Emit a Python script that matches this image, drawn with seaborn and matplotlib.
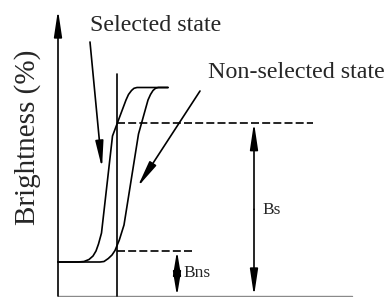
import matplotlib
matplotlib.use("Agg")
import matplotlib.pyplot as plt
import seaborn as sns
import pandas as pd

# ---- data (voltage offset, brightness; arbitrary schematic units) ----
sel_v = [0, 20, 26, 31, 35, 38, 40.5, 43.5, 54.5, 68, 70.5, 73.5, 76, 79, 110]
sel_b = [34, 34, 34.5, 36.5, 40, 45, 52, 63, 160, 196, 201.5, 205.5, 207.7, 208.5, 208.5]
non_v = [0, 42, 46, 50.3, 54, 57, 61.3, 66, 80.5, 90, 92.5, 95, 97.5, 100.3, 110]
non_b = [34, 34, 34.5, 37.5, 41, 45.5, 56, 71, 162, 196, 201.5, 205.5, 207.7, 208.5, 208.5]

v_select = 58.5      # selected voltage marker
b_s = 173.3          # brightness level Bs
b_ns = 45            # brightness level Bns
axis_top = 286
vline_top = 222
x_end = 294

label_y = "Brightness (%)"
label_sel = "Selected state"
label_non = "Non-selected state"
label_bs = "Bs"
label_bns = "Bns"

df = pd.concat([
    pd.DataFrame({"V": sel_v, "B": sel_b, "state": label_sel}),
    pd.DataFrame({"V": non_v, "B": non_b, "state": label_non}),
], ignore_index=True)

sns.set_theme(style="white")
plt.rcParams["font.family"] = ["Liberation Serif", "DejaVu Serif"]

fig = plt.figure(figsize=(3.88, 2.97), dpi=100)
ax = fig.add_axes([0, 0, 1, 1])
ax.set_xlim(-58, 330)
ax.set_ylim(-1, 296)
ax.axis("off")

sns.lineplot(data=df, x="V", y="B", hue="state", palette=["black", "black"],
             sort=False, estimator=None, legend=False, lw=1.2, ax=ax)

lw = 1.2
# bottom axis line (grey)
ax.plot([0, x_end], [0, 0], color="#8a8a8a", lw=1.0)
# vertical selected-voltage line
ax.plot([v_select, v_select], [0, vline_top], color="black", lw=lw)
# dashed levels
ax.plot([v_select, 255], [b_s, b_s], color="black", lw=lw, ls=(0, (4.8, 1.9)))
ax.plot([v_select, 137], [b_ns, b_ns], color="black", lw=lw, ls=(0, (4.8, 1.9)))

single = dict(arrowstyle="-|>,head_length=1.6,head_width=0.24", color="black",
              lw=lw, shrinkA=0, shrinkB=0, mutation_scale=10)
short = dict(arrowstyle="-|>,head_length=1.45,head_width=0.24", color="black",
             lw=lw, shrinkA=0, shrinkB=0, mutation_scale=10)

# y axis arrow
ax.annotate("", xy=(0, axis_top), xytext=(0, 0), arrowprops=single)
# Bs double arrow
ax.annotate("", xy=(196, b_s), xytext=(196, b_s / 2), arrowprops=single)
ax.annotate("", xy=(196, 0), xytext=(196, b_s / 2), arrowprops=single)
# Bns double arrow
ax.annotate("", xy=(119, b_ns), xytext=(119, b_ns / 2), arrowprops=short)
ax.annotate("", xy=(119, 0), xytext=(119, b_ns / 2), arrowprops=short)
# pointer arrows
ax.annotate("", xy=(44, 128), xytext=(32, 254), arrowprops=single)
ax.annotate("", xy=(79.5, 109), xytext=(142, 205), arrowprops=single)

# texts
ax.text(32, 265, label_sel, fontsize=17.3, ha="left", va="baseline")
ax.text(150, 218, label_non, fontsize=17.3, ha="left", va="baseline")
ax.text(204, 86, label_bs, fontsize=12.5, ha="left", va="center")
ax.text(125, 23, label_bns, fontsize=12.5, ha="left", va="center")
ax.text(-30, 159, label_y, fontsize=21, rotation=90, ha="center", va="center")

fig.savefig("out.png", dpi=100)
